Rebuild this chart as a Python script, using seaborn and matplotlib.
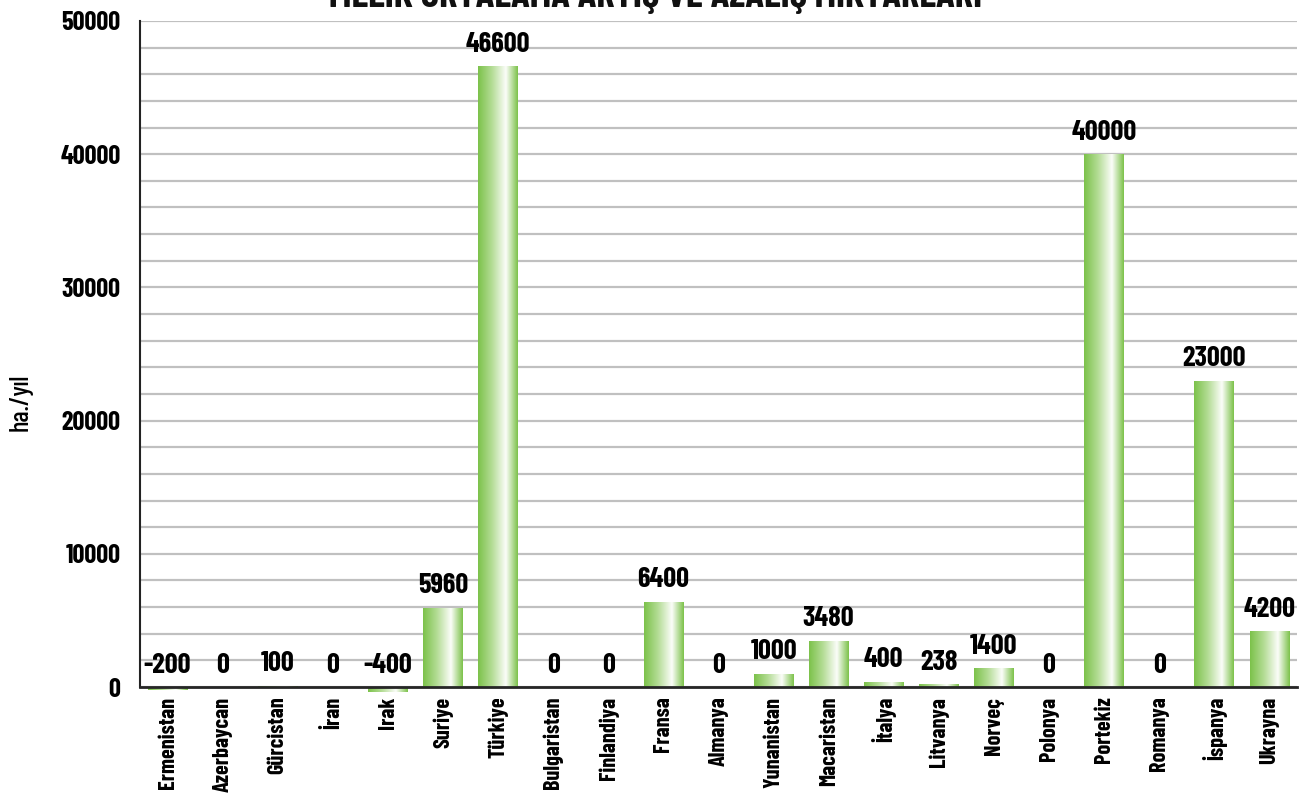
import numpy as np
import pandas as pd
import matplotlib
matplotlib.use("Agg")
import matplotlib.pyplot as plt
from matplotlib.colors import LinearSegmentedColormap
from matplotlib.ticker import FixedLocator
import seaborn as sns

# Data
countries = ['Ermenistan', 'Azerbaycan', 'Gürcistan', 'İran', 'Irak', 'Suriye', 'Türkiye',
             'Bulgaristan', 'Finlandiya', 'Fransa', 'Almanya', 'Yunanistan', 'Macaristan',
             'İtalya', 'Litvanya', 'Norveç', 'Polonya', 'Portekiz', 'Romanya', 'İspanya', 'Ukrayna']
values = [-200, 0, 100, 0, -400, 5960, 46600, 0, 0, 6400, 0, 1000, 3480,
          400, 238, 1400, 0, 40000, 0, 23000, 4200]

title = 'YILLIK ORTALAMA ARTIŞ VE AZALIŞ MIKTARLARI'
ylabel = 'ha./yıl'

sns.set_style('white')
plt.rcParams['font.family'] = ['Barlow Condensed', 'Roboto Condensed', 'DejaVu Sans']
plt.rcParams['font.weight'] = 'bold'

df = pd.DataFrame({'country': countries, 'value': values})

fig = plt.figure(figsize=(13.01, 7.97), dpi=100)
ax = fig.add_axes([0.1076, 0.1263, 0.8893, 0.8474])

sns.barplot(data=df, x='country', y='value', color='#7cc24a', width=0.72,
            saturation=1, ax=ax, zorder=2)

# horizontal gradient fill (green -> white -> green) clipped to each bar
cmap = LinearSegmentedColormap.from_list(
    'bar', [(0.0, '#7cc24a'), (0.35, '#b4dc95'), (0.70, '#fbfdf9'), (1.0, '#7cc24a')])
grad = np.linspace(0, 1, 256).reshape(1, -1)
for p in ax.patches:
    x0, y0 = p.get_x(), p.get_y()
    w, h = p.get_width(), p.get_height()
    if h == 0:
        p.set_visible(False)
        continue
    p.set_facecolor('none')
    p.set_edgecolor('none')
    im = ax.imshow(grad, cmap=cmap, aspect='auto', zorder=2,
                   extent=[x0, x0 + w, min(y0, y0 + h), max(y0, y0 + h)])
    im.set_clip_path(p)

ax.set_xlim(-0.5, len(countries) - 0.5)
ax.set_ylim(-700, 50000)

# value labels
for i, v in enumerate(values):
    ax.text(i, max(v, 0) + 700, f'{v}', ha='center', va='bottom',
            fontsize=20.5, fontweight='bold', color='black')

# grid every 2000, labels every 10000
ax.yaxis.set_major_locator(FixedLocator(range(0, 50001, 10000)))
ax.yaxis.set_minor_locator(FixedLocator(range(0, 50001, 2000)))
ax.grid(which='both', axis='y', color='#c0c0c0', linewidth=1.6, zorder=0)
ax.set_axisbelow(True)
ax.tick_params(axis='y', which='both', length=0, labelsize=19, pad=14, labelcolor='black')

# category boundary ticks pointing up from the baseline
ax.set_xticks(range(len(countries)))
ax.set_xticklabels(countries)
ax.xaxis.set_minor_locator(FixedLocator(np.arange(0.5, len(countries), 1.0)))
ax.tick_params(axis='x', which='minor', direction='in', length=11, width=1.5, color='#222222')
ax.tick_params(axis='x', which='major', length=0, pad=7, labelrotation=90, labelsize=16,
               labelcolor='black')
plt.setp(ax.get_xticklabels(), va='top', ha='center')

for s in ['top', 'right']:
    ax.spines[s].set_visible(False)
ax.spines['bottom'].set_position(('data', 0))
ax.spines['bottom'].set_linewidth(2)
ax.spines['bottom'].set_zorder(3)
ax.spines['left'].set_bounds(0, 50000)
ax.spines['left'].set_linewidth(1.5)
ax.spines['left'].set_color('#222222')

ax.set_xlabel('')
ax.set_ylabel(ylabel, fontsize=19, color='black', fontweight='medium')
ax.yaxis.set_label_coords(-0.093, 0.436)

fig.text(0.502, 0.991, title, ha='center', va='baseline', fontsize=28, fontweight='bold',
         color='#111111')

fig.savefig('out.png', dpi=100)
